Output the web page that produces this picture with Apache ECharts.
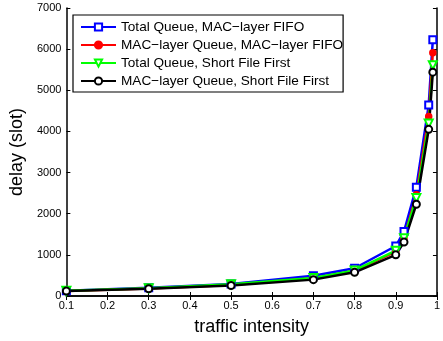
<!DOCTYPE html>
<html>
<head>
<meta charset="utf-8">
<script src="https://cdn.jsdelivr.net/npm/echarts@6/dist/echarts.min.js"></script>
<style>
html, body { margin: 0; padding: 0; background: #fff; }
#chart { width: 443px; height: 341px; }
</style>
</head>
<body>
<div id="chart"></div>
<script>
var intensity = [0.1, 0.3, 0.5, 0.7, 0.8, 0.9, 0.92, 0.95, 0.98, 0.99];
var totalFifo = [130, 200, 290, 490, 675, 1215, 1565, 2645, 4640, 6230];
var macFifo = [120, 180, 270, 430, 610, 1080, 1400, 2460, 4365, 5915];
var totalSff = [125, 190, 285, 440, 620, 1100, 1405, 2380, 4190, 5610];
var macSff = [120, 175, 255, 398, 575, 1000, 1310, 2230, 4050, 5440];

function pairs(ys) {
	return intensity.map(function (x, i) { return [x, ys[i]]; });
}

var font = '"Liberation Sans", Arial, sans-serif';
var chart = echarts.init(document.getElementById('chart'));

function mkSeries(name, ys, color, symbol, size, rotate) {
	return {
		name: name,
		type: 'line',
		data: pairs(ys),
		symbol: symbol,
		symbolSize: size,
		symbolRotate: rotate || 0,
		showAllSymbol: true,
		lineStyle: { color: color, width: 2.5 },
		itemStyle: { color: color, borderColor: color, borderWidth: 1.5 },
		emphasis: { disabled: true },
		animation: false
	};
}

var axisLine = { show: true, lineStyle: { color: '#000', width: 1.5 } };

chart.setOption({
	animation: false,
	textStyle: { fontFamily: font },
	grid: { left: 66, right: 4, top: 8, bottom: 39 },
	legend: {
		orient: 'vertical',
		left: 73,
		top: 15,
		padding: [5, 0, 4, 7],
		itemGap: 4,
		itemWidth: 35,
		itemHeight: 9,
		borderColor: '#000',
		borderWidth: 1.2,
		backgroundColor: '#fff',
		textStyle: { fontFamily: font, fontSize: 13.6, color: '#000' },
		data: ['Total Queue, MAC\u2212layer FIFO', 'MAC\u2212layer Queue, MAC\u2212layer FIFO',
			'Total Queue, Short File First', 'MAC\u2212layer Queue, Short File First']
	},
	xAxis: [{
		type: 'value',
		min: 0.1,
		max: 1,
		interval: 0.1,
		name: 'traffic intensity',
		nameLocation: 'middle',
		nameGap: 22,
		nameTextStyle: { fontFamily: font, fontSize: 18, color: '#000' },
		axisLine: axisLine,
		axisTick: { inside: true, length: 4, lineStyle: { color: '#000' } },
		axisLabel: { color: '#000', fontSize: 11, margin: 4, formatter: function (v) { return String(+v.toFixed(1)); } },
		splitLine: { show: false }
	}, {
		type: 'value',
		position: 'top',
		min: 0.1,
		max: 1,
		interval: 0.1,
		axisLine: axisLine,
		axisTick: { inside: true, length: 4, lineStyle: { color: '#000' } },
		axisLabel: { show: false },
		splitLine: { show: false }
	}],
	yAxis: [{
		type: 'value',
		min: 0,
		max: 7000,
		interval: 1000,
		name: 'delay (slot)',
		nameLocation: 'middle',
		nameGap: 38,
		nameTextStyle: { fontFamily: font, fontSize: 18, color: '#000' },
		axisLine: axisLine,
		axisTick: { show: true, inside: true, length: 4, lineStyle: { color: '#000' } },
		axisLabel: { color: '#000', fontSize: 11, margin: 5, formatter: function (v) { return String(v); } },
		splitLine: { show: false }
	}, {
		type: 'value',
		position: 'right',
		min: 0,
		max: 7000,
		interval: 1000,
		axisLine: axisLine,
		axisTick: { show: true, inside: true, length: 4, lineStyle: { color: '#000' } },
		axisLabel: { show: false },
		splitLine: { show: false }
	}],
	series: [
		mkSeries('Total Queue, MAC\u2212layer FIFO', totalFifo, '#0000ff', 'emptyRect', 7),
		mkSeries('MAC\u2212layer Queue, MAC\u2212layer FIFO', macFifo, '#ff0000', 'circle', 6),
		mkSeries('Total Queue, Short File First', totalSff, '#00ff00', 'emptyTriangle', 8, 180),
		mkSeries('MAC\u2212layer Queue, Short File First', macSff, '#000000', 'emptyCircle', 7)
	]
});
</script>
</body>
</html>
